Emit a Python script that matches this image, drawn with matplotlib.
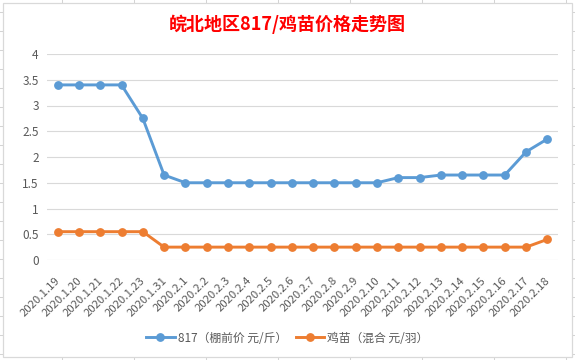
import matplotlib
matplotlib.use('Agg')
import matplotlib.pyplot as plt
from matplotlib.lines import Line2D
from matplotlib.patches import Rectangle
from matplotlib.transforms import ScaledTranslation

plt.rcParams['font.family'] = ['Noto Sans CJK SC', 'DejaVu Sans']

# 数据
dates = ['2020.1.19', '2020.1.20', '2020.1.21', '2020.1.22', '2020.1.23', '2020.1.31',
         '2020.2.1', '2020.2.2', '2020.2.3', '2020.2.4', '2020.2.5', '2020.2.6',
         '2020.2.7', '2020.2.8', '2020.2.9', '2020.2.10', '2020.2.11', '2020.2.12',
         '2020.2.13', '2020.2.14', '2020.2.15', '2020.2.16', '2020.2.17', '2020.2.18']
price_817 = [3.4, 3.4, 3.4, 3.4, 2.75, 1.65, 1.5, 1.5, 1.5, 1.5, 1.5, 1.5,
             1.5, 1.5, 1.5, 1.5, 1.6, 1.6, 1.65, 1.65, 1.65, 1.65, 2.1, 2.35]
price_chick = [0.55, 0.55, 0.55, 0.55, 0.55, 0.25, 0.25, 0.25, 0.25, 0.25, 0.25, 0.25,
               0.25, 0.25, 0.25, 0.25, 0.25, 0.25, 0.25, 0.25, 0.25, 0.25, 0.25, 0.4]
yticks = [0, 0.5, 1, 1.5, 2, 2.5, 3, 3.5, 4]
ytick_labels = ['0', '0.5', '1', '1.5', '2', '2.5', '3', '3.5', '4']
labels = ['817（棚前价 元/斤）', '鸡苗（混合 元/羽）']

W, H = 575, 360
fig = plt.figure(figsize=(W / 100, H / 100), dpi=100)

# 表格背景的单元格线
cell_color = '#d4d4d4'
for xc in range(62, W, 72):
    fig.add_artist(Line2D([xc / W, xc / W], [0, 1], color=cell_color, lw=0.75, zorder=-3))
for yr in range(12, H, 19):
    fig.add_artist(Line2D([0, 1], [1 - yr / H, 1 - yr / H], color=cell_color, lw=0.75, zorder=-3))

# 图表区
fig.add_artist(Rectangle((3 / W, 3 / H), 569 / W, 354 / H, facecolor='white',
                         edgecolor='#d9d9d9', lw=0.9, zorder=-2))

ax = fig.add_axes([47 / W, 100 / H, 511 / W, 206 / H])
ax.patch.set_alpha(0)

x = list(range(len(dates)))
ax.plot(x, price_817, color='#5b9bd5', lw=2.1, marker='o', ms=5.3, label=labels[0],
        solid_joinstyle='round', zorder=3)
ax.plot(x, price_chick, color='#ed7d31', lw=2.1, marker='o', ms=5.3, label=labels[1],
        solid_joinstyle='round', zorder=3)

ax.set_xlim(-0.5, len(dates) - 0.5)
ax.set_ylim(0, 4)
ax.set_yticks(yticks)
ax.set_yticklabels(ytick_labels)
ax.set_xticks(x)
ax.set_xticklabels(dates, rotation=45, ha='right', va='center', rotation_mode='anchor')
ax.grid(axis='y', color='#d9d9d9', lw=0.8)
ax.set_axisbelow(True)
for s in ax.spines.values():
    s.set_visible(False)
ax.tick_params(axis='y', length=0, pad=6, labelsize=8.5, labelcolor='#595959')
ax.tick_params(axis='x', length=0, pad=0, labelsize=8.2, labelcolor='#595959')

off = ScaledTranslation(0.01, -0.19, fig.dpi_scale_trans)
for lab in ax.get_xticklabels():
    lab.set_transform(lab.get_transform() + off)

fig.text(287.5 / W, 1 - 24 / H, '皖北地区817/鸡苗价格走势图', color='#ff0000',
         fontsize=13, fontweight='bold', ha='center', va='center')

leg = fig.legend(loc='center', bbox_to_anchor=(287.5 / W, 1 - 338 / H), ncol=2,
                 frameon=False, fontsize=8.5, handlelength=2.4, handletextpad=0.3,
                 columnspacing=0.7)
for t in leg.get_texts():
    t.set_color('#595959')

fig.savefig('out.png', dpi=100, facecolor='white')
